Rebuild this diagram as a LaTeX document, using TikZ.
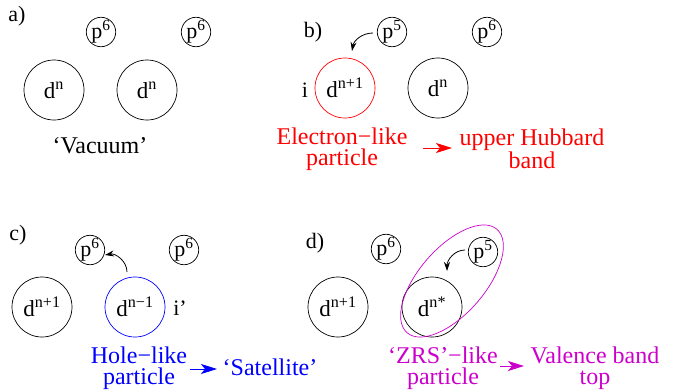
\documentclass[tikz,border=0pt]{standalone}
\usepackage{fontspec}
\setmainfont{Liberation Serif}
\usetikzlibrary{arrows.meta,shapes.geometric}
\definecolor{zrs}{RGB}{204,0,204}
\tikzset{
  big/.style={circle,draw,line width=0.7pt,minimum size=60pt,inner sep=0pt,font=\fontsize{23}{23}\selectfont},
  small/.style={circle,draw,line width=0.7pt,minimum size=28pt,inner sep=0pt,font=\fontsize{22}{22}\selectfont},
  lab/.style={font=\fontsize{22}{22}\selectfont},
  txt/.style={font=\fontsize{24}{21}\selectfont,align=center},
  hop/.style={line width=0.8pt,-{Stealth[length=9pt,width=6pt]}},
  res/.style={line width=0.8pt,-{Stealth[length=16pt,width=10pt,inset=4pt]}}
}
\newcommand{\sps}[1]{\textsuperscript{#1}}
\begin{document}
\begin{tikzpicture}[x=1pt,y=-1pt]
\useasboundingbox (0,0) rectangle (675,389);
% a)
\node[lab] (la) at (17,16) {a)};
\node[small] (pa1) at (101,32) {p\sps{6}};
\node[small] (pa2) at (196,32) {p\sps{6}};
\node[big] (da1) at (54,90) {d\sps{n}};
\node[big] (da2) at (147,90) {d\sps{n}};
\node[txt] (vac) at (100,146) {‘Vacuum’};
% b)
\node[lab] (lb) at (313,32) {b)};
\node[small] (pb1) at (392,32) {p\sps{5}};
\node[small] (pb2) at (487,32) {p\sps{6}};
\node[big,draw=red] (db1) at (345,88) {d\sps{n+1}};
\node[big] (db2) at (438,88) {d\sps{n}};
\node[lab] (ib) at (305,90) {i};
\coordinate (bs) at (373,33);
\coordinate (be) at (352,51);
\draw[hop] (bs) to[out=180,in=80] (be);
\node[txt,text=red] (eb) at (342,149) {Electron−like\\particle};
\node[txt,text=red] (ub) at (532,149) {upper Hubbard\\band};
\coordinate (rbs) at (423,148);
\coordinate (rbe) at (452,148);
\draw[res,red] (rbs) -- (rbe);
% c)
\node[lab] (lc) at (18,235) {c)};
\node[small] (pc1) at (90,250) {p\sps{6}};
\node[small] (pc2) at (184,250) {p\sps{6}};
\node[big] (dc1) at (42,307) {d\sps{n+1}};
\node[big,draw=blue] (dc2) at (135,307) {d\sps{n−1}};
\node[lab] (ic) at (180,308) {i’};
\coordinate (cs) at (127,272);
\coordinate (ce) at (105,255);
\draw[hop] (cs) to[out=90,in=10] (ce);
\node[txt,text=blue] (hc) at (139,368) {Hole−like\\particle};
\node[txt,text=blue] (sc) at (270,367) {‘Satellite’};
\coordinate (rcs) at (190,369);
\coordinate (rce) at (217,369);
\draw[res,blue] (rcs) -- (rce);
% d)
\node[lab] (ld) at (315,243) {d)};
\node[small] (pd1) at (386,249) {p\sps{6}};
\node[small] (pd2) at (483,252) {p\sps{5}};
\node[big] (dd1) at (338,307) {d\sps{n+1}};
\node[big] (dd2) at (432,307) {d\sps{n*}};
\node[ellipse,draw=zrs,line width=0.7pt,minimum width=137pt,minimum height=66pt,inner sep=0pt,rotate=49] (el) at (452,281) {};
\coordinate (ds) at (465,250);
\coordinate (de) at (447,271);
\draw[hop] (ds) to[out=180,in=90] (de);
\node[txt,text=zrs] (zd) at (443,368) {‘ZRS’−like\\particle};
\node[txt,text=zrs] (vd) at (595,368) {Valence band\\top};
\coordinate (rds) at (500,366);
\coordinate (rde) at (524,366);
\draw[res,zrs] (rds) -- (rde);
\end{tikzpicture}
\end{document}
